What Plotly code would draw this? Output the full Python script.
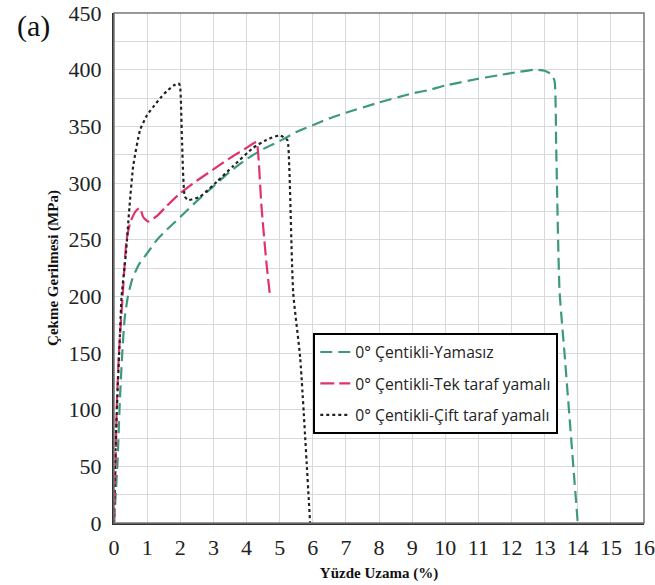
import plotly.graph_objects as go

# Yamasız (unpatched)
x_yamasiz = [0, 0.1, 0.18, 0.25, 0.32, 0.42, 0.55, 0.75, 1.0, 1.3, 1.6, 2.0, 2.5, 3.0, 3.5, 4.0, 4.5, 5.0, 5.5, 6.0, 6.5, 7.0, 8.0, 9.0, 9.5, 10.0, 11.0, 11.6, 12.2, 12.7, 13.0, 13.2, 13.3, 13.35, 13.45, 13.6, 13.8, 14.0]
y_yamasiz = [0, 50, 110, 150, 180, 200, 215, 228, 238, 250, 259, 270, 284, 297, 310, 321, 330, 337, 345, 351, 357, 362, 371, 379, 382, 386, 392, 395, 398, 400, 399, 396, 390, 330, 205, 150, 75, 0]

# Tek taraf yamalı (single-side patch)
x_tek = [0, 0.05, 0.08, 0.15, 0.26, 0.38, 0.5, 0.65, 0.78, 0.88, 1.03, 1.3, 1.6, 2.0, 2.5, 3.0, 3.5, 4.0, 4.3, 4.36, 4.45, 4.6, 4.7]
y_tek = [0, 50, 100, 150, 200, 250, 266, 275, 278, 270, 266, 271, 280, 291, 302, 312, 322, 331, 336, 323, 280, 230, 203]

# Çift taraf yamalı (double-side patch)
x_cift = [0, 0.03, 0.1, 0.17, 0.23, 0.36, 0.47, 0.58, 0.79, 1.0, 1.18, 1.4, 1.59, 1.8, 1.94, 1.99, 2.05, 2.14, 2.24, 2.6, 3.1, 3.6, 4.2, 4.6, 5.0, 5.23, 5.29, 5.41, 5.62, 5.92]
y_cift = [0, 50, 110, 160, 200, 238, 280, 315, 347, 360, 367, 375, 381, 386, 388, 386, 340, 288, 285, 288, 301, 315, 331, 338, 342, 338, 315, 203, 146, 0]

names = ["0° Çentikli-Yamasız", "0° Çentikli-Tek taraf yamalı", "0° Çentikli-Çift taraf yamalı"]

fig = go.Figure()
fig.add_trace(go.Scatter(x=x_yamasiz, y=y_yamasiz, mode="lines", name=names[0], legendgroup="a",
                         line=dict(color="#3d9a78", width=2.2, dash="12px,6px", shape="spline", smoothing=0.5)))
fig.add_trace(go.Scatter(x=x_tek, y=y_tek, mode="lines", name=names[1], legendgroup="b",
                         line=dict(color="#e0336a", width=2.2, dash="14px,5px", shape="spline", smoothing=0.5)))
fig.add_trace(go.Scatter(x=x_cift, y=y_cift, mode="lines", name=names[2], legendgroup="c",
                         line=dict(color="#222222", width=2.2, dash="dot", shape="spline", smoothing=0.5)))

tickfont = dict(family="Liberation Serif, Times New Roman, serif", size=22, color="#222")
titlefont = dict(family="Liberation Serif, Times New Roman, serif", size=15, color="#111")

fig.update_layout(
    width=655, height=585,
    margin=dict(l=114, r=11, t=13, b=62),
    plot_bgcolor="white", paper_bgcolor="white",
    showlegend=True,
    legend=dict(x=0.376, y=0.372, xanchor="left", yanchor="top",
                bgcolor="white", bordercolor="black", borderwidth=2,
                font=dict(family="Open Sans, Noto Sans, sans-serif", size=15.7, color="#222"),
                tracegroupgap=8),
    xaxis=dict(range=[0, 16], dtick=1, tick0=0, showgrid=True, gridcolor="#d9d9d9", gridwidth=1,
               showline=True, linecolor="#333", linewidth=2, ticks="", zeroline=False,
               tickfont=tickfont, ticklabelstandoff=4, automargin=False, ticklabeloverflow="allow",
               title=dict(text="<b>Yüzde Uzama (%)</b>", font=titlefont, standoff=8)),
    yaxis=dict(range=[0, 450], dtick=50, tick0=0, showgrid=True, gridcolor="#d9d9d9", gridwidth=1,
               minor=dict(dtick=25, showgrid=True, gridcolor="#d9d9d9", gridwidth=1),
               showline=True, linecolor="#333", linewidth=2, ticks="", zeroline=False,
               tickfont=tickfont, ticklabelstandoff=6, automargin=False, ticklabeloverflow="allow",
               title=dict(text="<b>Çekme Gerilmesi (MPa)</b>", font=titlefont, standoff=6)),
    shapes=[dict(type="rect", xref="paper", yref="paper", x0=0, x1=1, y0=0, y1=1,
                 line=dict(color="#777", width=1.5), layer="above")],
    annotations=[dict(text="(a)", xref="paper", yref="paper", x=-0.151, y=0.974, xanchor="center",
                      yanchor="middle", showarrow=False,
                      font=dict(family="Liberation Serif, Times New Roman, serif", size=30, color="#111"))],
)

fig.write_html("out.html", config={"displayModeBar": False},
               post_script="document.body.style.margin='0';")
